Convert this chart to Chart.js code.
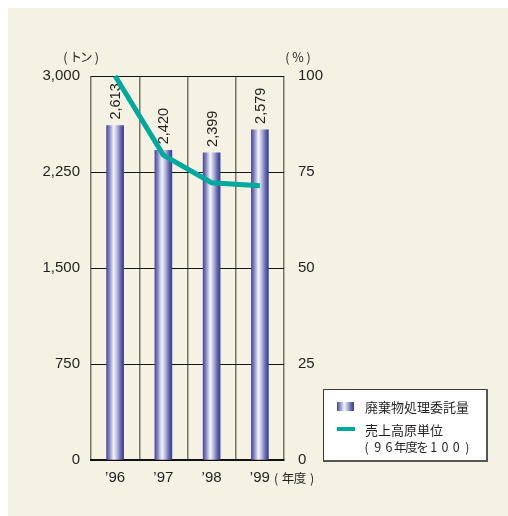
<!DOCTYPE html>
<html lang="ja">
<head>
<meta charset="utf-8">
<title>廃棄物処理委託量と売上高原単位</title>
<script src="https://cdn.jsdelivr.net/npm/chart.js@4/dist/chart.umd.min.js"></script>
<style>
  html, body { margin: 0; padding: 0; background: #ffffff; }
  canvas { display: block; }
</style>
</head>
<body>
<canvas id="chart" width="508" height="516"></canvas>
<script>
// 年度
const years = ['’96', '’97', '’98', '’99'];
// 廃棄物処理委託量（トン）
const wasteTonnes = [2613, 2420, 2399, 2579];
// 売上高原単位（'96年度を100とした指数）
const unitIndex = [100, 79.4, 72.2, 71.4];
// 軸の範囲と目盛り間隔
const tonRange = [0, 3000];
const tonStep = 750;
const pctRange = [0, 100];
const pctStep = 25;
// 凡例・単位の文字
const legendLabels = ['廃棄物処理委託量', '売上高原単位', '(96年度を100)'];
const unitLeft = '(トン)';
const unitRight = '(%)';
const unitX = '(年度)';

const CREAM = '#f5f1e3';
const INK = '#231f20';
const TEAL = '#00a99d';
const NUM_FONT = '"Liberation Sans", Arial, sans-serif';
const JP_FONT = '"Noto Sans CJK JP", "Noto Sans", sans-serif';

function barGradient(ctx, x0, x1) {
  const g = ctx.createLinearGradient(x0, 0, x1, 0);
  g.addColorStop(0.00, '#474a96');
  g.addColorStop(0.18, '#8a8dc8');
  g.addColorStop(0.42, '#f6f6fc');
  g.addColorStop(0.62, '#b4b6dc');
  g.addColorStop(0.85, '#5c60aa');
  g.addColorStop(1.00, '#3c3f8c');
  return g;
}

// 文字を指定幅に均等配置
function spreadText(ctx, str, x0, x1, y) {
  const chars = Array.from(str);
  const cell = (x1 - x0) / chars.length;
  ctx.textAlign = 'center';
  chars.forEach((c, i) => ctx.fillText(c, x0 + cell * (i + 0.5), y));
}

const BAR_W = 17;

const backdrop = {
  id: 'backdrop',
  beforeDraw(chart) {
    const ctx = chart.ctx;
    ctx.save();
    ctx.fillStyle = '#ffffff';
    ctx.fillRect(0, 0, chart.width, chart.height);
    ctx.fillStyle = CREAM;
    ctx.fillRect(8, 8, chart.width - 8, chart.height - 8);
    ctx.restore();
  }
};

const barValueLabels = {
  id: 'barValueLabels',
  afterDatasetDraw(chart, args) {
    if (args.index !== 0) return;
    const ctx = chart.ctx;
    const meta = chart.getDatasetMeta(0);
    ctx.save();
    ctx.fillStyle = INK;
    ctx.font = '14.5px ' + NUM_FONT;
    ctx.textAlign = 'left';
    ctx.textBaseline = 'middle';
    meta.data.forEach((bar, i) => {
      ctx.save();
      ctx.translate(bar.x + 1, bar.y - 6);
      ctx.rotate(-Math.PI / 2);
      ctx.fillText(wasteTonnes[i].toLocaleString('en-US'), 0, 0);
      ctx.restore();
    });
    ctx.restore();
  }
};

const annotations = {
  id: 'annotations',
  afterDraw(chart) {
    const ctx = chart.ctx;
    ctx.save();
    ctx.fillStyle = INK;
    ctx.textBaseline = 'middle';
    ctx.font = '12.5px ' + JP_FONT;
    spreadText(ctx, unitLeft, 60, 102, 57);
    spreadText(ctx, unitRight, 282, 314, 57);
    spreadText(ctx, unitX, 270, 318, 478);

    // 凡例
    const lx = 323, ly = 389, lw = 164, lh = 72;
    ctx.fillStyle = '#ffffff';
    ctx.fillRect(lx, ly, lw, lh);
    ctx.strokeStyle = '#3a3a3a';
    ctx.lineWidth = 1;
    ctx.strokeRect(lx + 0.5, ly + 0.5, lw - 1, lh - 1);
    ctx.fillStyle = '#555555';
    ctx.fillRect(lx, ly + lh - 1, lw, 2);
    ctx.fillRect(lx + lw - 1, ly, 2, lh + 1);

    ctx.fillStyle = barGradient(ctx, 337, 354);
    ctx.fillRect(337, 402, 17, 9);
    ctx.fillStyle = TEAL;
    ctx.fillRect(337, 427, 18, 4);

    ctx.fillStyle = INK;
    ctx.font = '13px ' + JP_FONT;
    spreadText(ctx, legendLabels[0], 365, 469, 407);
    spreadText(ctx, legendLabels[1], 365, 443, 430);
    ctx.font = '12.5px ' + JP_FONT;
    spreadText(ctx, legendLabels[2], 361, 473, 447);
    ctx.restore();
  }
};

new Chart(document.getElementById('chart'), {
  data: {
    labels: years,
    datasets: [
      {
        type: 'bar',
        label: legendLabels[0],
        data: wasteTonnes,
        yAxisID: 'y',
        order: 1,
        barThickness: BAR_W,
        borderWidth: 0,
        backgroundColor(c) {
          const chart = c.chart;
          const xs = chart.scales.x;
          if (!xs || c.dataIndex === undefined) return '#6a6db4';
          const cx = xs.getPixelForValue(c.dataIndex);
          if (!isFinite(cx)) return '#6a6db4';
          return barGradient(chart.ctx, cx - BAR_W / 2, cx + BAR_W / 2);
        }
      },
      {
        type: 'line',
        label: legendLabels[1],
        data: unitIndex,
        yAxisID: 'y2',
        order: 0,
        borderColor: TEAL,
        borderWidth: 5,
        borderCapStyle: 'butt',
        borderJoinStyle: 'miter',
        pointRadius: 0,
        tension: 0,
        clip: false
      }
    ]
  },
  options: {
    responsive: false,
    devicePixelRatio: 1,
    animation: false,
    layout: { padding: { top: 76, left: 0, right: 0, bottom: 0 } },
    plugins: {
      legend: { display: false },
      tooltip: { enabled: false }
    },
    scales: {
      x: {
        type: 'category',
        offset: true,
        grid: {
          offset: true,
          color: '#7a746a',
          lineWidth: 1.5,
          drawTicks: false
        },
        border: { display: true, color: '#111111', width: 2 },
        ticks: {
          color: INK,
          font: { size: 15, family: NUM_FONT },
          padding: 9,
          maxRotation: 0
        },
        afterFit(s) { s.height = 56; }
      },
      y: {
        position: 'left',
        min: tonRange[0],
        max: tonRange[1],
        grid: {
          color: '#151515',
          lineWidth: 1,
          drawTicks: false
        },
        border: { display: false },
        ticks: {
          stepSize: tonStep,
          color: INK,
          font: { size: 15, family: NUM_FONT },
          padding: 11,
          callback: v => Number(v).toLocaleString('en-US')
        },
        afterFit(s) { s.width = 91; }
      },
      y2: {
        position: 'right',
        min: pctRange[0],
        max: pctRange[1],
        grid: { drawOnChartArea: false, drawTicks: false },
        border: { display: false },
        ticks: {
          stepSize: pctStep,
          color: INK,
          font: { size: 15, family: NUM_FONT },
          padding: 14
        },
        afterFit(s) { s.width = 224; }
      }
    }
  },
  plugins: [backdrop, barValueLabels, annotations]
});
</script>
</body>
</html>
